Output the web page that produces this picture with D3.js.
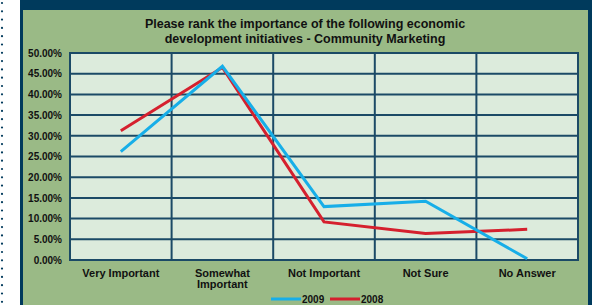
<!DOCTYPE html>
<html><head><meta charset="utf-8">
<script src="https://cdn.jsdelivr.net/npm/d3@7"></script>
<style>html,body{margin:0;padding:0;background:#fff;}svg{display:block;}</style>
</head><body>
<svg id="c" width="600" height="305"></svg>
<script>
const categories = ["Very Important", "Somewhat Important", "Not Important", "Not Sure", "No Answer"];
const values2009 = [26.2, 46.8, 12.9, 14.2, 0.3];
const values2008 = [31.2, 46.5, 9.2, 6.4, 7.4];
const yTicks = [0, 5, 10, 15, 20, 25, 30, 35, 40, 45, 50];
const titleLines = ["Please rank the importance of the following economic", "development initiatives - Community Marketing"];
const seriesNames = ["2009", "2008"];

const navy = "#003a5c", grid = "#1b4a66", green = "#9aba86", plotBg = "#dcebdc";
const colors = ["#17aee8", "#d5202e"];
const font = "Liberation Sans, Arial, sans-serif";

const svg = d3.select("#c");
// left dotted column
const dots = d3.range(3, 305, 8.3);
svg.selectAll("circle.dot").data(dots).enter().append("circle")
  .attr("cx", 2).attr("cy", d => d).attr("r", 1.1).attr("fill", navy);

// frame
svg.append("rect").attr("x", 20).attr("y", 0).attr("width", 572).attr("height", 310).attr("fill", navy);
svg.append("rect").attr("x", 23).attr("y", 10).attr("width", 565).attr("height", 300).attr("fill", green);

const m = {l: 70, r: 578, t: 53, b: 260};
const x = d3.scaleBand().domain(categories).range([m.l, m.r]);
const y = d3.scaleLinear().domain([0, 50]).range([m.b, m.t]);

svg.append("rect").attr("x", m.l).attr("y", m.t).attr("width", m.r - m.l).attr("height", m.b - m.t).attr("fill", plotBg);

// gridlines
svg.append("g").selectAll("line").data(yTicks).enter().append("line")
  .attr("x1", m.l).attr("x2", m.r).attr("y1", d => y(d)).attr("y2", d => y(d))
  .attr("stroke", grid).attr("stroke-width", 2);
const bounds = categories.map(c => x(c)).concat([m.r]);
svg.append("g").selectAll("line").data(bounds).enter().append("line")
  .attr("x1", d => d).attr("x2", d => d).attr("y1", m.t).attr("y2", m.b)
  .attr("stroke", grid).attr("stroke-width", 2);
svg.append("rect").attr("x", m.l).attr("y", m.t).attr("width", m.r - m.l).attr("height", m.b - m.t)
  .attr("fill", "none").attr("stroke", grid).attr("stroke-width", 2);

// y axis labels
const yAxis = d3.axisLeft(y).tickValues(yTicks).tickSize(0).tickPadding(8).tickFormat(d => d.toFixed(2) + "%");
const ga = svg.append("g").attr("transform", `translate(${m.l},0)`).call(yAxis);
ga.select(".domain").remove();
ga.selectAll("text").attr("font-family", font).attr("font-weight", "bold").attr("font-size", 10).attr("fill", "#111");

// x labels
const xl = svg.append("g").selectAll("text").data(categories).enter().append("text")
  .attr("x", d => x(d) + x.bandwidth() / 2).attr("y", 277)
  .attr("text-anchor", "middle").attr("font-family", font).attr("font-weight", "bold")
  .attr("font-size", 11).attr("fill", "#111");
xl.each(function(d) {
  const t = d3.select(this);
  const parts = d === "Somewhat Important" ? ["Somewhat", "Important"] : [d];
  parts.forEach((p, i) => t.append("tspan").attr("x", x(d) + x.bandwidth() / 2).attr("dy", i ? 11 : 0).text(p));
});

// title
svg.append("g").selectAll("text").data(titleLines).enter().append("text")
  .attr("x", 305).attr("y", (d, i) => 28 + i * 15).attr("text-anchor", "middle")
  .attr("font-family", font).attr("font-weight", "bold").attr("font-size", 12.5).attr("fill", "#111").text(d => d);

// lines
const line = d3.line().x((d, i) => x(categories[i]) + x.bandwidth() / 2).y(d => y(d));
[values2008, values2009].forEach((vals, k) => {
  svg.append("path").attr("d", line(vals)).attr("fill", "none")
    .attr("stroke", k === 0 ? colors[1] : colors[0]).attr("stroke-width", 3).attr("stroke-linejoin", "miter");
});

// legend
const leg = [{name: seriesNames[0], c: colors[0], x: 271}, {name: seriesNames[1], c: colors[1], x: 330}];
leg.forEach(l => {
  svg.append("line").attr("x1", l.x).attr("x2", l.x + 30).attr("y1", 299).attr("y2", 299).attr("stroke", l.c).attr("stroke-width", 3);
  svg.append("text").attr("x", l.x + 31).attr("y", 302.5).attr("font-family", font).attr("font-weight", "bold")
    .attr("font-size", 10).attr("fill", "#111").text(l.name);
});
</script>
</body></html>
